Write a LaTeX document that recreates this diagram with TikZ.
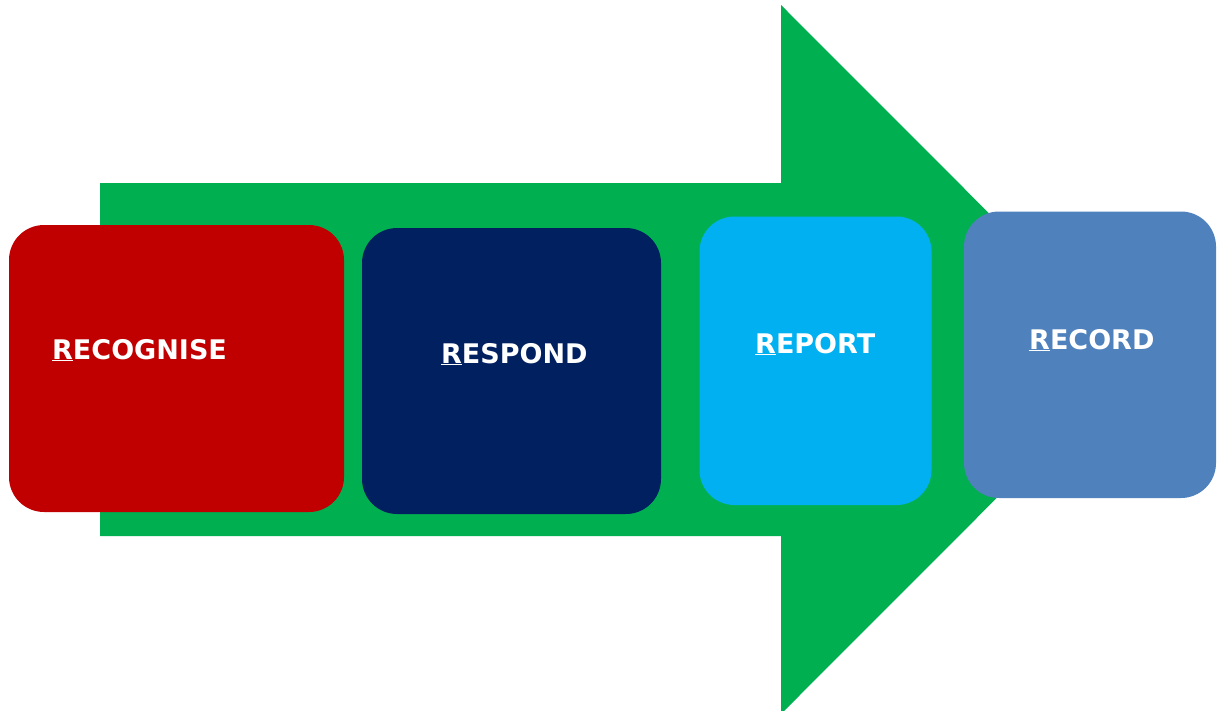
\documentclass[tikz,border=0pt]{standalone}
\usepackage{fontspec}
\setmainfont{DejaVu Sans}
\begin{document}
\begin{tikzpicture}[x=1pt,y=-1pt,
  stage/.style={rounded corners=35pt},
  label/.style={anchor=base west, inner sep=0pt, text=white,
    font=\fontsize{27}{30}\selectfont\bfseries},
]
\useasboundingbox (0,0) rectangle (1217,710);
\definecolor{arrowgreen}{HTML}{00B050}
\definecolor{recred}{HTML}{C00000}
\definecolor{resnavy}{HTML}{002060}
\definecolor{repblue}{HTML}{00B0F0}
\definecolor{recsteel}{HTML}{4F81BD}

% big process arrow
\begin{scope}
  \clip (0,0) rectangle (1217,710);
  \fill[arrowgreen] (100,183) -- (781,183) -- (781,5) -- (1135,359.5)
    -- (781,714) -- (781,536) -- (100,536) -- cycle;
\end{scope}

% stage boxes
\fill[recred,  stage] (9,225)     rectangle (344,512);
\fill[resnavy, stage] (362,228)   rectangle (661,514);
\fill[repblue, stage] (699.5,216.5) rectangle (931.5,505);
\fill[recsteel,stage] (964,211.5) rectangle (1216,498);

% stage labels
\node[label] (recognise) at (52,359)   {\underline{R}ECOGNISE};
\node[label] (respond)   at (441,363)  {\underline{R}ESPOND};
\node[label] (report)    at (755,353)  {\underline{R}EPORT};
\node[label] (record)    at (1029,349) {\underline{R}ECORD};
\end{tikzpicture}
\end{document}
